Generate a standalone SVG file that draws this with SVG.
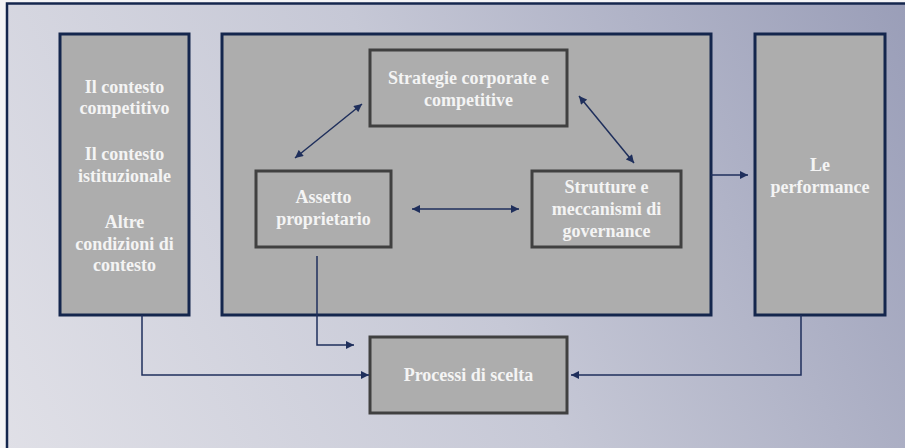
<svg xmlns="http://www.w3.org/2000/svg" width="905" height="448" viewBox="0 0 905 448">
<defs>
<linearGradient id="bg" gradientUnits="userSpaceOnUse" x1="0" y1="448" x2="905" y2="0">
<stop offset="0" stop-color="#e0e0e7"/>
<stop offset="0.5" stop-color="#c6c8d6"/>
<stop offset="1" stop-color="#9a9eb8"/>
</linearGradient>
<marker id="ah" viewBox="0 0 10 10" refX="10" refY="5" markerWidth="9" markerHeight="8" markerUnits="userSpaceOnUse" orient="auto-start-reverse">
<path d="M0,0 L10,5 L0,10 z" fill="#1f2f5c"/>
</marker>
<style>
.outer{fill:#adadad;stroke:#14264d;stroke-width:3}
.inner{fill:#adadad;stroke:#404040;stroke-width:3}
.t{font-family:"Liberation Serif","Times New Roman",serif;font-weight:bold;font-size:18px;fill:#f4f4f4;text-anchor:middle}
.c{fill:none;stroke:#1f2f5c;stroke-width:1.5}
</style>
</defs>
<rect x="0" y="0" width="905" height="448" fill="#f4f4f6"/>
<rect x="7" y="3.5" width="910" height="460" fill="url(#bg)" stroke="#14264d" stroke-width="2.5"/>

<g id="contesto">
<rect class="outer" x="60" y="34" width="129" height="281"/>
<text class="t" x="124.5" y="93">Il contesto</text>
<text class="t" x="124.5" y="114">competitivo</text>
<text class="t" x="124.5" y="160">Il contesto</text>
<text class="t" x="124.5" y="182">istituzionale</text>
<text class="t" x="124.5" y="228">Altre</text>
<text class="t" x="124.5" y="250">condizioni di</text>
<text class="t" x="124.5" y="271">contesto</text>
</g>

<g id="impresa">
<rect class="outer" x="222" y="34" width="489" height="281"/>
</g>

<g id="performance">
<rect class="outer" x="755" y="34" width="130" height="281"/>
<text class="t" x="820" y="171">Le</text>
<text class="t" x="820" y="193">performance</text>
</g>

<g id="strategie">
<rect class="inner" x="370" y="50" width="197" height="76"/>
<text class="t" x="468.5" y="84">Strategie corporate e</text>
<text class="t" x="468.5" y="106">competitive</text>
</g>

<g id="assetto">
<rect class="inner" x="256" y="171" width="135" height="76"/>
<text class="t" x="323.5" y="203">Assetto</text>
<text class="t" x="323.5" y="225">proprietario</text>
</g>

<g id="strutture">
<rect class="inner" x="532" y="171" width="149" height="76"/>
<text class="t" x="606.5" y="193">Strutture e</text>
<text class="t" x="606.5" y="215">meccanismi di</text>
<text class="t" x="606.5" y="237">governance</text>
</g>

<g id="processi">
<rect class="inner" x="370" y="337" width="197" height="76"/>
<text class="t" x="468.5" y="381">Processi di scelta</text>
</g>

<g id="connectors">
<line class="c" x1="295" y1="158" x2="362" y2="104" marker-start="url(#ah)" marker-end="url(#ah)"/>
<line class="c" x1="579" y1="96" x2="634" y2="163" marker-start="url(#ah)" marker-end="url(#ah)"/>
<line class="c" x1="412" y1="209" x2="519" y2="209" marker-start="url(#ah)" marker-end="url(#ah)"/>
<line class="c" x1="711" y1="175" x2="748" y2="175" marker-end="url(#ah)"/>
<polyline class="c" points="317,256 317,345 354,345" marker-end="url(#ah)"/>
<polyline class="c" points="142,315 142,375 369,375" marker-end="url(#ah)"/>
<polyline class="c" points="801,315 801,375 571,375" marker-end="url(#ah)"/>
</g>
</svg>
